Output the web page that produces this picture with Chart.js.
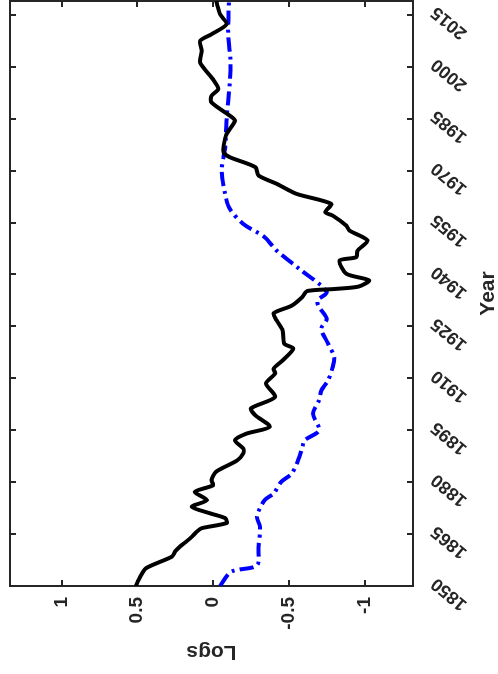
<!DOCTYPE html>
<html>
<head>
<meta charset="utf-8">
<script src="https://cdn.jsdelivr.net/npm/chart.js@4/dist/chart.umd.min.js"></script>
<style>
  html, body { margin: 0; padding: 0; background: #fff; overflow: hidden; }
  body { width: 498px; height: 674px; position: relative; }
  /* the figure is laid out landscape and turned a quarter turn counter-clockwise */
  #wrap {
    position: absolute; left: 0; top: 0;
    width: 674px; height: 498px;
    transform-origin: 0 0;
    transform: translateY(674px) rotate(-90deg);
  }
  canvas { display: block; }
</style>
</head>
<body>
<div id="wrap"><canvas id="c" width="674" height="498"></canvas></div>
<script>
// Observed series (solid black)
const observedYears = [
  1850, 1852.7, 1855.2, 1858.5, 1860, 1861.3, 1863.8, 1865.7, 1866.7, 1868.2,
  1869.6, 1871, 1872.9, 1874.8, 1877.2, 1879.1, 1880.6, 1883, 1886.3, 1888.3,
  1889.7, 1892.1, 1894, 1896, 1899.3, 1901.3, 1904.6, 1908.5, 1911.4, 1912.8,
  1915.2, 1918.6, 1920, 1923.8, 1926.7, 1928.8, 1931, 1933.5, 1935.2, 1935.8,
  1936.5, 1938.3, 1940.2, 1944, 1945, 1946.9, 1949.8, 1952.7, 1954.1, 1957,
  1958, 1960.4, 1963.3, 1966.2, 1968.6, 1971, 1973.9, 1975.3, 1977.2, 1980.6,
  1984.4, 1985.9, 1989.7, 1991.6, 1993.6, 1996.4, 2001.2, 2004.6, 2007.5, 2009.4,
  2012.3, 2015.2, 2019
];
const observedLogs = [
  0.51, 0.48, 0.44, 0.27, 0.25, 0.22, 0.15, 0.107, 0.074, -0.09,
  -0.08, 0.02, 0.14, 0.04, 0.12, 0.0, 0.01, -0.02, -0.16, -0.2,
  -0.2, -0.145, -0.22, -0.375, -0.28, -0.25, -0.41, -0.35, -0.41, -0.40,
  -0.46, -0.53, -0.47, -0.46, -0.42, -0.40, -0.52, -0.59, -0.62, -0.80,
  -0.96, -1.03, -0.88, -0.835, -0.945, -0.955, -1.02, -0.90, -0.88, -0.79,
  -0.74, -0.78, -0.55, -0.42, -0.30, -0.28, -0.11, -0.07, -0.07, -0.09,
  -0.145, -0.11, 0.01, 0.01, -0.035, 0.0, 0.085, 0.074, 0.085, 0.01,
  -0.09, -0.046, -0.02
];

// Smoothed series (blue dash-dot)
const smoothYears = [
  1850, 1854.1, 1856, 1861.3, 1867.1, 1870, 1874.8, 1876.7, 1880.1, 1882.5,
  1887.3, 1890.2, 1892.1, 1895, 1899.8, 1903.7, 1906.5, 1909.4, 1913.3, 1916.1,
  1920, 1924.3, 1927.2, 1930.6, 1932.5, 1935, 1941.6, 1946.9, 1950.8, 1954.6,
  1959, 1963.3, 1970, 1976.7, 1985, 1995.3, 2002, 2009.4, 2019
];
const smoothLogs = [
  -0.046, -0.12, -0.29, -0.30, -0.31, -0.29, -0.34, -0.40, -0.45, -0.52,
  -0.57, -0.59, -0.605, -0.70, -0.66, -0.70, -0.715, -0.76, -0.79, -0.80,
  -0.76, -0.715, -0.75, -0.70, -0.69, -0.75, -0.57, -0.42, -0.34, -0.20,
  -0.11, -0.08, -0.057, -0.08, -0.09, -0.11, -0.115, -0.10, -0.105
];

// Axis ticks
const yearTicks = [1850, 1865, 1880, 1895, 1910, 1925, 1940, 1955, 1970, 1985, 2000, 2015];
const logTicks = [-1, -0.5, 0, 0.5, 1];

const axisColor = '#262626';
const fontFamily = 'Arial, "Liberation Sans", Helvetica, sans-serif';
const tickLen = 6;

function toXY(xs, ys) {
  return xs.map((v, i) => ({ x: v, y: ys[i] }));
}

// keep the plot box fixed: no extra room reserved for overhanging labels
function fixBox(s, size) {
  if (s.isHorizontal()) s.height = size; else s.width = size;
  s.paddingTop = 0; s.paddingBottom = 0; s.paddingLeft = 0; s.paddingRight = 0;
}

// box around the plot area with inward tick marks on all four sides
const frameTicks = {
  id: 'frameTicks',
  beforeDatasetsDraw(chart) {
    const { ctx, chartArea: a, scales: { x, y } } = chart;
    ctx.save();
    ctx.strokeStyle = axisColor;
    ctx.lineWidth = 2;
    ctx.beginPath();
    x.ticks.forEach(t => {
      const px = Math.round(x.getPixelForValue(t.value));
      ctx.moveTo(px, a.bottom); ctx.lineTo(px, a.bottom - tickLen);
      ctx.moveTo(px, a.top); ctx.lineTo(px, a.top + tickLen);
    });
    y.ticks.forEach(t => {
      const py = Math.round(y.getPixelForValue(t.value));
      ctx.moveTo(a.left, py); ctx.lineTo(a.left + tickLen, py);
      ctx.moveTo(a.right, py); ctx.lineTo(a.right - tickLen, py);
    });
    ctx.stroke();
    ctx.strokeRect(a.left, a.top, a.right - a.left, a.bottom - a.top);
    ctx.restore();
  }
};

new Chart(document.getElementById('c'), {
  type: 'line',
  data: {
    datasets: [
      {
        label: 'Observed',
        data: toXY(observedYears, observedLogs),
        borderColor: '#000000',
        borderWidth: 4,
        pointRadius: 0,
        tension: 0.25,
        fill: false
      },
      {
        label: 'Smoothed',
        data: toXY(smoothYears, smoothLogs),
        borderColor: '#0000ff',
        borderWidth: 4,
        borderDash: [14, 5, 3, 5],
        pointRadius: 0,
        tension: 0.3,
        fill: false
      }
    ]
  },
  options: {
    responsive: false,
    animation: false,
    devicePixelRatio: 1,
    layout: { padding: { left: 0, right: 1, top: 10, bottom: 0 } },
    plugins: { legend: { display: false }, tooltip: { enabled: false } },
    scales: {
      x: {
        type: 'linear',
        min: 1850,
        max: 2019,
        afterBuildTicks: s => { s.ticks = yearTicks.map(v => ({ value: v })); },
        afterFit: s => fixBox(s, 85),
        grid: { display: false, drawTicks: false },
        border: { display: false },
        ticks: {
          color: axisColor,
          font: { family: fontFamily, size: 18, weight: 'bold' },
          minRotation: 50,
          maxRotation: 50,
          padding: 14,
          labelOffset: 5,
          autoSkip: false,
          callback: v => String(v)
        },
        title: {
          display: true,
          text: 'Year',
          color: axisColor,
          font: { family: fontFamily, size: 21, weight: 'bold' },
          padding: { top: 0, bottom: -3 }
        }
      },
      y: {
        type: 'linear',
        min: -1.32,
        max: 1.34,
        afterBuildTicks: s => { s.ticks = logTicks.map(v => ({ value: v })); },
        afterFit: s => fixBox(s, 88),
        grid: { display: false, drawTicks: false },
        border: { display: false },
        ticks: {
          color: axisColor,
          font: { family: fontFamily, size: 19, weight: 'bold' },
          padding: 11,
          callback: v => String(v)
        },
        title: {
          display: true,
          text: 'Logs',
          color: axisColor,
          font: { family: fontFamily, size: 21, weight: 'bold' },
          padding: { top: 10, bottom: 0 }
        }
      }
    }
  },
  plugins: [frameTicks]
});
</script>
</body>
</html>
